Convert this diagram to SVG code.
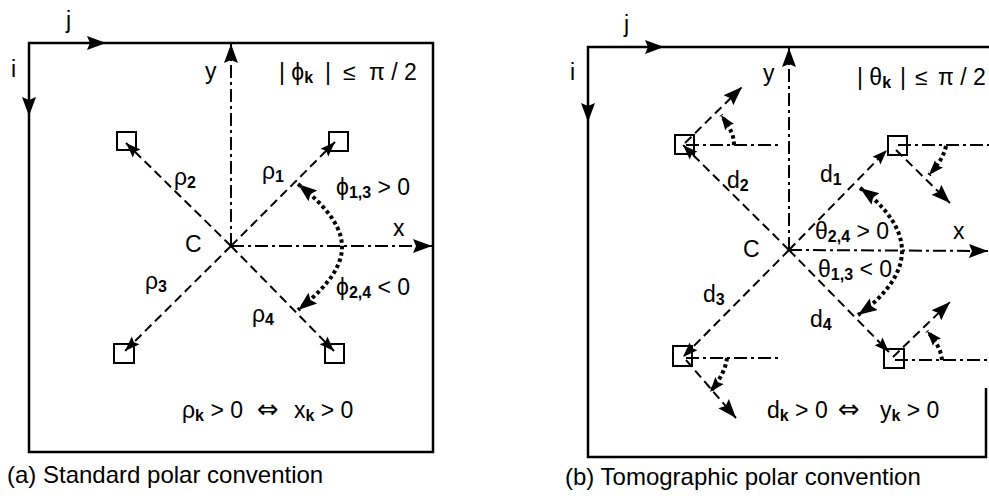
<svg xmlns="http://www.w3.org/2000/svg" width="989" height="500" viewBox="0 0 989 500">
<style>
text{font-family:"Liberation Sans","DejaVu Sans",Arial,sans-serif;fill:#000}
.lbl{font-size:23px}
.cap{font-size:24px}
.sub{font-size:16px;font-weight:bold}
.iff{font-family:"DejaVu Sans",sans-serif;font-size:26px}
.frame{fill:none;stroke:#000;stroke-width:2.5}
.solid{fill:none;stroke:#000;stroke-width:2}
.dash{fill:none;stroke:#000;stroke-width:2;stroke-dasharray:9 5}
.dashdot{fill:none;stroke:#000;stroke-width:2;stroke-dasharray:13 4 3 4}
.dot{fill:none;stroke:#000;stroke-width:4;stroke-dasharray:3.5 3}
.sq{fill:none;stroke:#000;stroke-width:2}
</style>
<defs>
<marker id="ah" markerUnits="userSpaceOnUse" viewBox="0 0 20 16" markerWidth="20" markerHeight="16" refX="19" refY="8" orient="auto-start-reverse"><path d="M0,1 L19,8 L0,15 L3,8 z" fill="#000"/></marker>
<marker id="ahs" markerUnits="userSpaceOnUse" viewBox="0 0 16 12" markerWidth="16" markerHeight="12" refX="15" refY="6" orient="auto-start-reverse"><path d="M0,0.5 L15,6 L0,11.5 L2.5,6 z" fill="#000"/></marker>
</defs>
<rect width="989" height="500" fill="#fff"/>

<!-- Panel (a) -->
<g id="frame-a"><rect class="frame" x="29" y="43" width="404" height="409"/></g>
<g id="node-a-sq1"><rect class="sq" x="329" y="132" width="19" height="19"/></g>
<g id="node-a-sq2"><rect class="sq" x="117" y="132" width="19" height="18"/></g>
<g id="node-a-sq3"><rect class="sq" x="114" y="344" width="20" height="19"/></g>
<g id="node-a-sq4"><rect class="sq" x="325" y="344" width="19" height="19"/></g>

<!-- Panel (b) -->
<g id="frame-b"><path class="frame" d="M989,47 H588 V457 H986 V388"/></g>
<g id="node-b-sq1"><rect class="sq" x="888" y="136" width="19" height="19"/></g>
<g id="node-b-sq2"><rect class="sq" x="675" y="135" width="19" height="19"/></g>
<g id="node-b-sq3"><rect class="sq" x="673" y="346" width="19" height="20"/></g>
<g id="node-b-sq4"><rect class="sq" x="884" y="349" width="20" height="19"/></g>

<g id="connectors">
  <!-- (a) -->
  <path class="solid" d="M29,43 L106,43" marker-end="url(#ah)"/>
  <path class="solid" d="M29,43 L29,116" marker-end="url(#ah)"/>
  <path class="dashdot" d="M231,246 L231,44" marker-end="url(#ah)"/>
  <path class="dashdot" d="M231,246 L432,246" marker-end="url(#ah)"/>
  <path class="dash" d="M231,246 L335,142" marker-end="url(#ahs)"/>
  <path class="dash" d="M231,246 L126,143" marker-end="url(#ahs)"/>
  <path class="dash" d="M231,246 L125,351" marker-end="url(#ahs)"/>
  <path class="dash" d="M231,246 L334,351" marker-end="url(#ahs)"/>
  <path class="dot" d="M298,184 C318,200 342,222 342,247 C342,272 318,294 298,310" marker-start="url(#ah)" marker-end="url(#ah)"/>
  <!-- (b) -->
  <path class="solid" d="M588,47 L664,47" marker-end="url(#ah)"/>
  <path class="solid" d="M588,47 L588,122" marker-end="url(#ah)"/>
  <path class="dashdot" d="M789,250 L789,48" marker-end="url(#ah)"/>
  <path class="dashdot" d="M789,250 L988,251" marker-end="url(#ah)"/>
  <path class="dash" d="M789,250 L683,145" marker-end="url(#ahs)"/>
  <path class="dash" d="M789,250 L887,150" marker-end="url(#ahs)"/>
  <path class="dash" d="M789,250 L683,357" marker-end="url(#ahs)"/>
  <path class="dash" d="M789,250 L889,352" marker-end="url(#ahs)"/>
  <path class="dashdot" d="M686,145 H779"/>
  <path class="dashdot" d="M898,145 H989"/>
  <path class="dashdot" d="M686,358 H778"/>
  <path class="dashdot" d="M895,360 H989"/>
  <path class="dash" d="M685,143 L742,87" marker-end="url(#ah)"/>
  <path class="dash" d="M896,150 L950,203" marker-end="url(#ah)"/>
  <path class="dash" d="M686,360 L736,418" marker-end="url(#ah)"/>
  <path class="dash" d="M893,357 L950,302" marker-end="url(#ah)"/>
  <path class="dot" d="M734,145 C734,136 731,129 721,115" marker-end="url(#ahs)"/>
  <path class="dot" d="M946,146 C944,156 938,165 929,175" marker-end="url(#ahs)"/>
  <path class="dot" d="M727,358 C726,368 720,380 710,392" marker-end="url(#ahs)"/>
  <path class="dot" d="M942,360 C941,350 936,341 927,331" marker-end="url(#ahs)"/>
  <path class="dot" d="M860,188 C880,202 902,225 902,251 C902,277 880,300 858,315" marker-start="url(#ah)" marker-end="url(#ah)"/>
</g>

<g id="labels-a">
  <text class="lbl" x="66" y="28">j</text>
  <text class="lbl" x="11" y="77">i</text>
  <text class="lbl" x="205" y="79">y</text>
  <text class="lbl" x="279" y="80">| ϕ<tspan class="sub" dy="3">k</tspan><tspan x="325" dy="-3">|</tspan><tspan x="343">≤</tspan><tspan x="369">π / 2</tspan></text>
  <text class="lbl" x="174" y="185">ρ<tspan class="sub" dy="3">2</tspan></text>
  <text class="lbl" x="262" y="179">ρ<tspan class="sub" dy="3">1</tspan></text>
  <text class="lbl" x="336" y="195">ϕ<tspan class="sub" dy="3">1,3</tspan><tspan dy="-3"> &gt; 0</tspan></text>
  <text class="lbl" x="393" y="236">x</text>
  <text class="lbl" x="185" y="252">C</text>
  <text class="lbl" x="145" y="289">ρ<tspan class="sub" dy="3">3</tspan></text>
  <text class="lbl" x="336" y="295">ϕ<tspan class="sub" dy="3">2,4</tspan><tspan dy="-3"> &lt; 0</tspan></text>
  <text class="lbl" x="252" y="322">ρ<tspan class="sub" dy="3">4</tspan></text>
  <text class="lbl" x="182" y="418">ρ<tspan class="sub" dy="3">k</tspan><tspan dy="-3"> &gt; 0</tspan></text>
  <text class="iff" x="257" y="418">⇔</text>
  <text class="lbl" x="294" y="418">x<tspan class="sub" dy="3">k</tspan><tspan dy="-3"> &gt; 0</tspan></text>
  <text class="cap" x="7" y="483">(a) Standard polar convention</text>
</g>

<g id="labels-b">
  <text class="lbl" x="624" y="32">j</text>
  <text class="lbl" x="570" y="80">i</text>
  <text class="lbl" x="763" y="81">y</text>
  <text class="lbl" x="857" y="85">| θ<tspan class="sub" dy="3">k</tspan><tspan x="900" dy="-3">|</tspan><tspan x="915">≤</tspan><tspan x="938">π / 2</tspan></text>
  <text class="lbl" x="727" y="188">d<tspan class="sub" dy="3">2</tspan></text>
  <text class="lbl" x="820" y="182">d<tspan class="sub" dy="3">1</tspan></text>
  <text class="lbl" x="815" y="239">θ<tspan class="sub" dy="3">2,4</tspan><tspan dy="-3"> &gt; 0</tspan></text>
  <text class="lbl" x="953" y="239">x</text>
  <text class="lbl" x="743" y="257">C</text>
  <text class="lbl" x="818" y="277">θ<tspan class="sub" dy="3">1,3</tspan><tspan dy="-3"> &lt; 0</tspan></text>
  <text class="lbl" x="703" y="302">d<tspan class="sub" dy="3">3</tspan></text>
  <text class="lbl" x="810" y="327">d<tspan class="sub" dy="3">4</tspan></text>
  <text class="lbl" x="767" y="418">d<tspan class="sub" dy="3">k</tspan><tspan dy="-3"> &gt; 0</tspan></text>
  <text class="iff" x="838" y="418">⇔</text>
  <text class="lbl" x="880" y="418">y<tspan class="sub" dy="3">k</tspan><tspan dy="-3"> &gt; 0</tspan></text>
  <text class="cap" x="565" y="485">(b) Tomographic polar convention</text>
</g>
</svg>
